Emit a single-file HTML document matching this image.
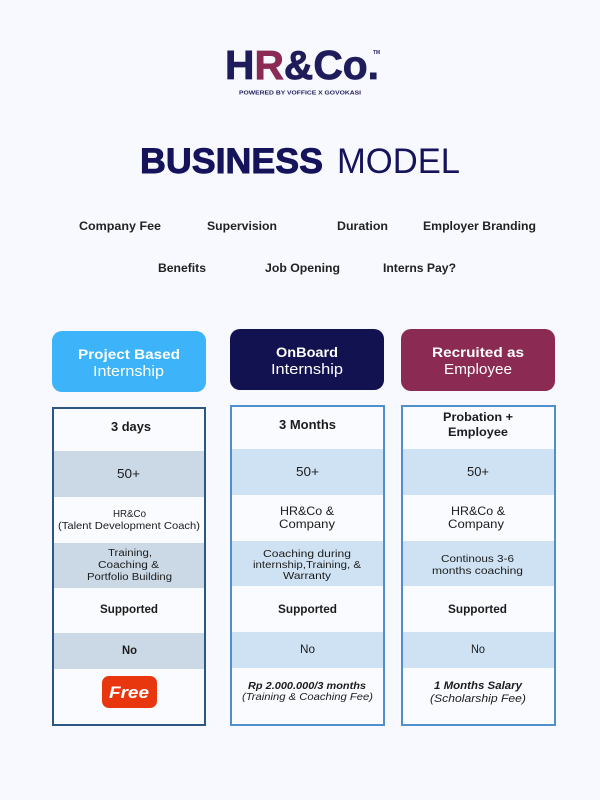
<!DOCTYPE html>
<html><head><meta charset="utf-8"><style>
html,body{margin:0;padding:0;background:#f7f9fe;}
svg{display:block;}
text{font-family:"Liberation Sans",Arial,sans-serif;}
</style></head><body>
<svg width="600" height="800" viewBox="0 0 600 800" xmlns="http://www.w3.org/2000/svg">
<rect width="600" height="800" fill="#f7f9fe"/>

<!-- Logo -->
<text x="225" y="79" font-size="41" font-weight="bold" fill="#1f1c5c" stroke="#1f1c5c" stroke-width="0.8" textLength="154" lengthAdjust="spacingAndGlyphs">H<tspan fill="#8b2a55" stroke="#8b2a55">R</tspan>&amp;Co.</text>
<text x="373" y="54" font-size="5.5" font-weight="bold" fill="#1f1c5c" textLength="7" lengthAdjust="spacingAndGlyphs">TM</text>
<text x="239" y="94.5" font-size="5.5" font-weight="bold" fill="#1f1c5c" textLength="122" lengthAdjust="spacingAndGlyphs">POWERED BY VOFFICE X GOVOKASI</text>

<!-- Title -->
<text x="140" y="173" font-size="35" font-weight="bold" fill="#15135a" stroke="#15135a" stroke-width="0.9" textLength="183" lengthAdjust="spacingAndGlyphs">BUSINESS</text>
<text x="337" y="173" font-size="35" fill="#15135a" textLength="123" lengthAdjust="spacingAndGlyphs">MODEL</text>

<!-- Labels -->
<g font-size="12" font-weight="bold" fill="#222">
<text x="79" y="230" textLength="82" lengthAdjust="spacingAndGlyphs">Company Fee</text>
<text x="207" y="230" textLength="70" lengthAdjust="spacingAndGlyphs">Supervision</text>
<text x="337" y="230" textLength="51" lengthAdjust="spacingAndGlyphs">Duration</text>
<text x="423" y="230" textLength="113" lengthAdjust="spacingAndGlyphs">Employer Branding</text>
<text x="158" y="272" textLength="48" lengthAdjust="spacingAndGlyphs">Benefits</text>
<text x="265" y="272" textLength="75" lengthAdjust="spacingAndGlyphs">Job Opening</text>
<text x="383" y="272" textLength="73" lengthAdjust="spacingAndGlyphs">Interns Pay?</text>
</g>

<!-- Header boxes -->
<rect x="52" y="331" width="154" height="61" rx="10" fill="#3db4f9"/>
<text x="78" y="359" font-size="13.5" font-weight="bold" fill="#fff" textLength="102" lengthAdjust="spacingAndGlyphs">Project Based</text>
<text x="93" y="376" font-size="14.5" fill="#fff" textLength="71" lengthAdjust="spacingAndGlyphs">Internship</text>

<rect x="230" y="329" width="154" height="61" rx="10" fill="#131250"/>
<text x="276" y="357" font-size="13.5" font-weight="bold" fill="#fff" textLength="62" lengthAdjust="spacingAndGlyphs">OnBoard</text>
<text x="271" y="374" font-size="14.5" fill="#fff" textLength="72" lengthAdjust="spacingAndGlyphs">Internship</text>

<rect x="401" y="329" width="154" height="62" rx="10" fill="#8b2a52"/>
<text x="432" y="357" font-size="13.5" font-weight="bold" fill="#fff" textLength="92" lengthAdjust="spacingAndGlyphs">Recruited as</text>
<text x="444" y="374" font-size="14.5" fill="#fff" textLength="68" lengthAdjust="spacingAndGlyphs">Employee</text>

<!-- Column 1 table -->
<rect x="53" y="408" width="152" height="317" fill="#f9fbff"/>
<rect x="53" y="451" width="152" height="46" fill="#cbd8e6"/>
<rect x="53" y="543" width="152" height="45" fill="#cbd8e6"/>
<rect x="53" y="633" width="152" height="36" fill="#cbd8e6"/>
<rect x="53" y="408" width="152" height="317" fill="none" stroke="#2a5783" stroke-width="2"/>

<g fill="#1c1c1c">
<text x="111" y="431" font-size="12.5" font-weight="bold" textLength="40" lengthAdjust="spacingAndGlyphs">3 days</text>
<text x="117" y="478" font-size="12.5" textLength="23" lengthAdjust="spacingAndGlyphs">50+</text>
<text x="113" y="517" font-size="10" textLength="33" lengthAdjust="spacingAndGlyphs">HR&amp;Co</text>
<text x="58" y="529" font-size="10.5" textLength="142" lengthAdjust="spacingAndGlyphs">(Talent Development Coach)</text>
<text x="108" y="556" font-size="10" textLength="44" lengthAdjust="spacingAndGlyphs">Training,</text>
<text x="98" y="568" font-size="10" textLength="61" lengthAdjust="spacingAndGlyphs">Coaching &amp;</text>
<text x="87" y="580" font-size="10" textLength="85" lengthAdjust="spacingAndGlyphs">Portfolio Building</text>
<text x="100" y="613" font-size="11.5" font-weight="bold" textLength="58" lengthAdjust="spacingAndGlyphs">Supported</text>
<text x="122" y="654" font-size="11.5" font-weight="bold" textLength="15" lengthAdjust="spacingAndGlyphs">No</text>
</g>
<rect x="102" y="676" width="55" height="32" rx="7" fill="#e8360e"/>
<text x="109" y="698" font-size="17" font-weight="bold" font-style="italic" fill="#fff" textLength="40" lengthAdjust="spacingAndGlyphs">Free</text>

<!-- Column 2 table -->
<rect x="231" y="406" width="153" height="319" fill="#f9fbff"/>
<rect x="231" y="449" width="153" height="46" fill="#cfe2f3"/>
<rect x="231" y="541" width="153" height="45" fill="#cfe2f3"/>
<rect x="231" y="632" width="153" height="36" fill="#cfe2f3"/>
<rect x="231" y="406" width="153" height="319" fill="none" stroke="#4f90cc" stroke-width="2"/>

<g fill="#1c1c1c">
<text x="279" y="429" font-size="12.5" font-weight="bold" textLength="57" lengthAdjust="spacingAndGlyphs">3 Months</text>
<text x="296" y="476" font-size="12.5" textLength="23" lengthAdjust="spacingAndGlyphs">50+</text>
<text x="280" y="515" font-size="12" textLength="54" lengthAdjust="spacingAndGlyphs">HR&amp;Co &amp;</text>
<text x="279" y="528" font-size="12" textLength="56" lengthAdjust="spacingAndGlyphs">Company</text>
<text x="263" y="557" font-size="10.5" textLength="88" lengthAdjust="spacingAndGlyphs">Coaching during</text>
<text x="253" y="568" font-size="10.5" textLength="108" lengthAdjust="spacingAndGlyphs">internship,Training, &amp;</text>
<text x="283" y="579" font-size="10.5" textLength="48" lengthAdjust="spacingAndGlyphs">Warranty</text>
<text x="278" y="613" font-size="11.5" font-weight="bold" textLength="59" lengthAdjust="spacingAndGlyphs">Supported</text>
<text x="300" y="653" font-size="11.5" textLength="15" lengthAdjust="spacingAndGlyphs">No</text>
<text x="248" y="689" font-size="10.5" font-weight="bold" font-style="italic" textLength="118" lengthAdjust="spacingAndGlyphs">Rp 2.000.000/3 months</text>
<text x="242" y="700" font-size="10.5" font-style="italic" textLength="131" lengthAdjust="spacingAndGlyphs">(Training &amp; Coaching Fee)</text>
</g>

<!-- Column 3 table -->
<rect x="402" y="406" width="153" height="319" fill="#f9fbff"/>
<rect x="402" y="449" width="153" height="46" fill="#cfe2f3"/>
<rect x="402" y="541" width="153" height="45" fill="#cfe2f3"/>
<rect x="402" y="632" width="153" height="36" fill="#cfe2f3"/>
<rect x="402" y="406" width="153" height="319" fill="none" stroke="#4f90cc" stroke-width="2"/>

<g fill="#1c1c1c">
<text x="443" y="421" font-size="12" font-weight="bold" textLength="70" lengthAdjust="spacingAndGlyphs">Probation +</text>
<text x="448" y="436" font-size="12" font-weight="bold" textLength="60" lengthAdjust="spacingAndGlyphs">Employee</text>
<text x="467" y="476" font-size="12.5" textLength="22" lengthAdjust="spacingAndGlyphs">50+</text>
<text x="451" y="515" font-size="12" textLength="54" lengthAdjust="spacingAndGlyphs">HR&amp;Co &amp;</text>
<text x="448" y="528" font-size="12" textLength="56" lengthAdjust="spacingAndGlyphs">Company</text>
<text x="441" y="562" font-size="10.5" textLength="73" lengthAdjust="spacingAndGlyphs">Continous 3-6</text>
<text x="432" y="574" font-size="10.5" textLength="91" lengthAdjust="spacingAndGlyphs">months coaching</text>
<text x="448" y="613" font-size="11.5" font-weight="bold" textLength="59" lengthAdjust="spacingAndGlyphs">Supported</text>
<text x="471" y="653" font-size="11.5" textLength="14" lengthAdjust="spacingAndGlyphs">No</text>
<text x="434" y="689" font-size="11" font-weight="bold" font-style="italic" textLength="88" lengthAdjust="spacingAndGlyphs">1 Months Salary</text>
<text x="430" y="702" font-size="11" font-style="italic" textLength="96" lengthAdjust="spacingAndGlyphs">(Scholarship Fee)</text>
</g>
</svg>
</body></html>
